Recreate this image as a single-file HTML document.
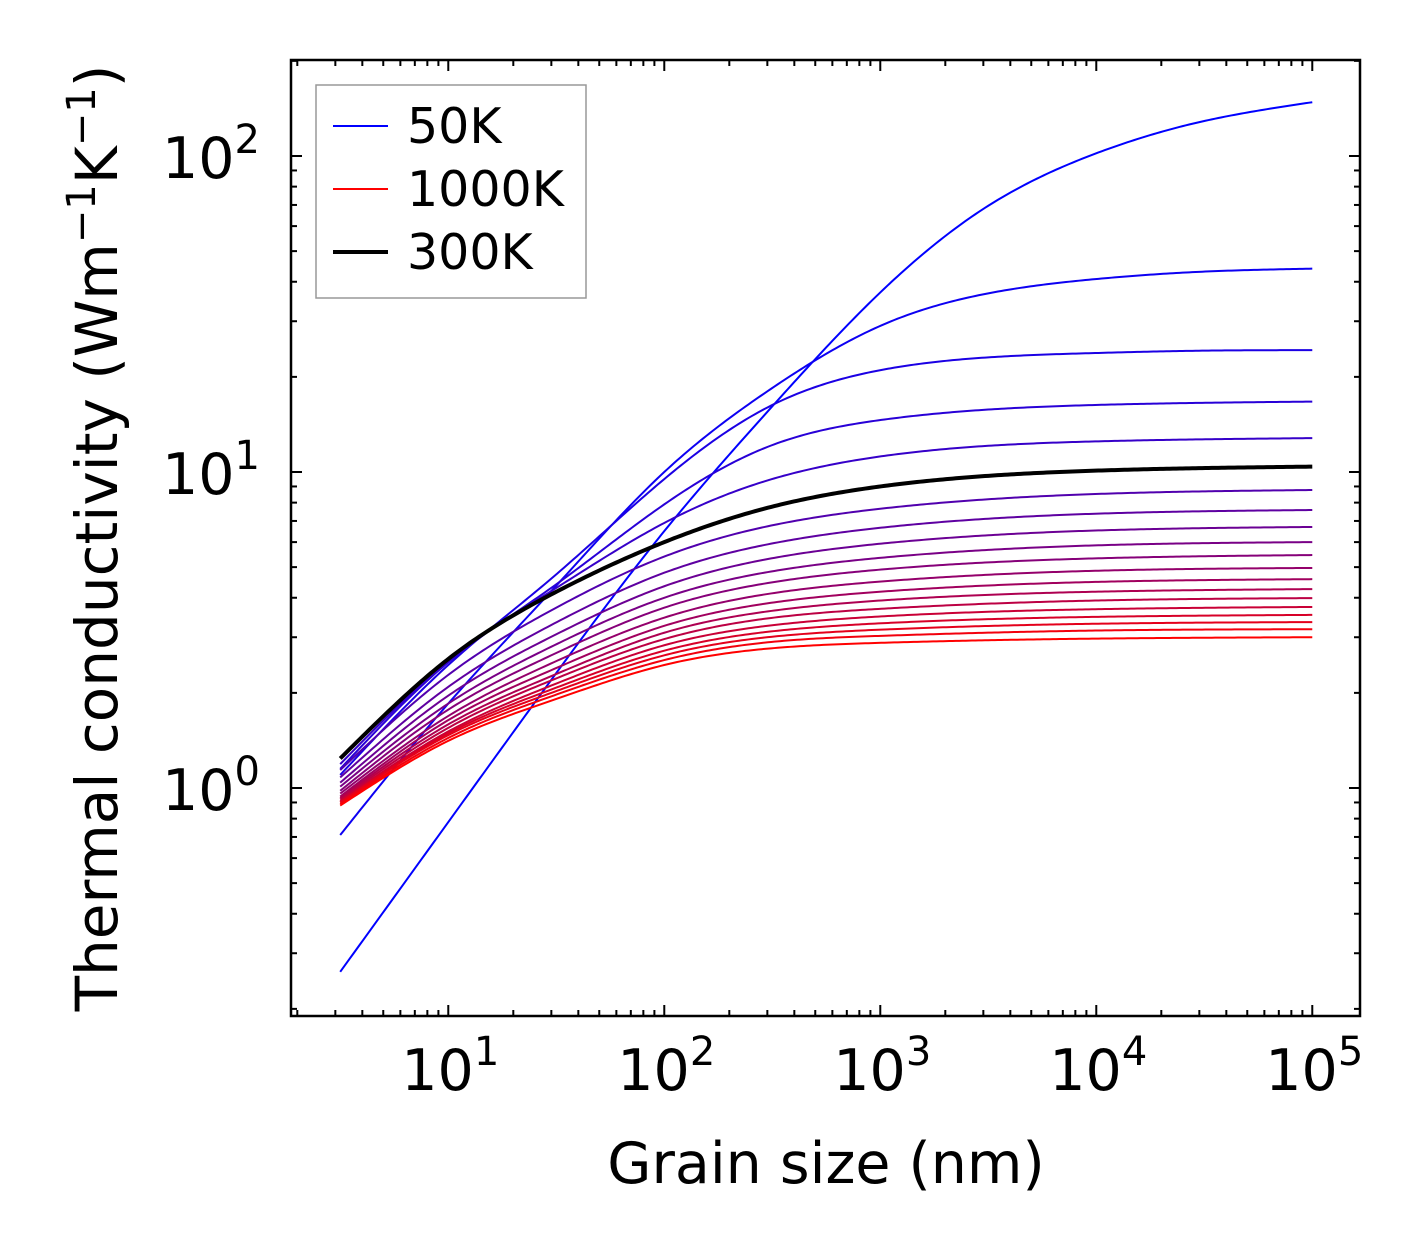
<!DOCTYPE html>
<html><head><meta charset="utf-8"><style>
html,body{margin:0;padding:0;background:#fff;}
svg{display:block;font-family:"DejaVu Sans","Liberation Sans",sans-serif;}
</style></head><body>
<svg id="chart" width="1421" height="1254" viewBox="0 0 1421 1254" xmlns="http://www.w3.org/2000/svg">
<rect width="1421" height="1254" fill="#fff"/>
<g id="curves"></g>
<g id="ticks"></g>
<rect x="291" y="60" width="1069" height="956" fill="none" stroke="#000" stroke-width="2.5"/>
<g id="xlabels" font-size="57" text-anchor="middle"></g>
<g id="ylabels" font-size="57" text-anchor="end"></g>
<text x="826" y="1183" font-size="57" text-anchor="middle">Grain size (nm)</text>
<text transform="translate(117,538) rotate(-90)" font-size="58" text-anchor="middle">Thermal conductivity (Wm<tspan font-size="40" dy="-22">−1</tspan><tspan dy="22">K</tspan><tspan font-size="40" dy="-22">−1</tspan><tspan dy="22">)</tspan></text>
<g>
<rect x="316" y="85" width="270" height="213" fill="#fff" stroke="#999" stroke-width="1.5"/>
<line x1="333" y1="126" x2="388" y2="126" stroke="rgb(0,0,255)" stroke-width="2"/>
<text x="407" y="143" font-size="49">50K</text>
<line x1="333" y1="189" x2="388" y2="189" stroke="rgb(255,0,0)" stroke-width="2"/>
<text x="407" y="206" font-size="49">1000K</text>
<line x1="333" y1="252" x2="388" y2="252" stroke="#000" stroke-width="4"/>
<text x="407" y="269" font-size="49">300K</text>
</g>
</svg>
<script>
const grainSizes = [3.16,10,30,100,300,1000,10000,100000];
const grainSizesFine = [3.16,10,30,100,300,1000,3000,10000,30000,100000];
const temperatures = [50,100,150,200,250,300,350,400,450,500,550,600,650,700,750,800,850,900,950,1000];
const k50 = [0.262,0.78,2.2,6.5,15.5,37,68,102,128,148];
const k100 = [0.71,1.85,4.2,10.0,18.0,29.0,36.5,40.8,43,44];
const k150 = [1.1,2.45,4.6,9.5,16.0,21.0,23.0,23.8,24.2,24.3];
const k200 = [1.15,2.5,4.3,7.9,12.0,14.6,16.3,16.7];
const k250 = [1.19,2.52,4.2,6.9,9.4,11.2,12.5,12.8];
const k300 = [1.24,2.56,4.1,6.0,7.7,9.0,10.1,10.4];
const k350 = [1.14,2.28,3.65,5.4,6.73,7.65,8.52,8.77];
const k400 = [1.08,2.09,3.28,4.8,5.90,6.66,7.38,7.58];
const k450 = [1.04,1.96,3.01,4.35,5.30,5.93,6.53,6.7];
const k500 = [1.01,1.85,2.80,4.0,4.82,5.35,5.86,6.0];
const k550 = [0.98,1.77,2.63,3.72,4.45,4.91,5.33,5.46];
const k600 = [0.96,1.69,2.48,3.46,4.11,4.50,4.87,4.97];
const k650 = [0.94,1.64,2.36,3.26,3.84,4.18,4.49,4.58];
const k700 = [0.93,1.59,2.26,3.10,3.62,3.92,4.18,4.26];
const k750 = [0.92,1.55,2.19,2.96,3.44,3.69,3.92,3.99];
const k800 = [0.91,1.51,2.11,2.83,3.26,3.49,3.68,3.74];
const k850 = [0.90,1.49,2.05,2.72,3.12,3.32,3.48,3.53];
const k900 = [0.90,1.47,2.00,2.63,3.00,3.17,3.31,3.35];
const k950 = [0.89,1.44,1.95,2.54,2.89,3.03,3.15,3.18];
const k1000 = [0.88,1.41,1.89,2.45,2.76,2.88,2.97,3.0];
const xTickExps = [1,2,3,4,5];
const yTickExps = [0,1,2];

const series = [k50,k100,k150,k200,k250,k300,k350,k400,k450,k500,k550,k600,k650,k700,k750,k800,k850,k900,k950,k1000];
const NS='http://www.w3.org/2000/svg';
const X0=291,X1=1360,Y0=60,Y1=1016;
const xmin=Math.log10(1.87), xmax=Math.log10(1.87)+(X1-X0)/216;
const ymax=2+96/316, ymin=2-(Y1-156)/316;
function xs(v){return X0+(Math.log10(v)-xmin)/(xmax-xmin)*(X1-X0);}
function ys(v){return Y1-(Math.log10(v)-ymin)/(ymax-ymin)*(Y1-Y0);}

// natural cubic spline in log-log space
function splineSample(xa,ya,n){
  const m=xa.length, h=[], a=new Array(m).fill(0), b=new Array(m).fill(0), c=new Array(m).fill(0), r=new Array(m).fill(0);
  for(let i=0;i<m-1;i++) h.push(xa[i+1]-xa[i]);
  b[0]=1; b[m-1]=1;
  for(let i=1;i<m-1;i++){ a[i]=h[i-1]; b[i]=2*(h[i-1]+h[i]); c[i]=h[i]; r[i]=6*((ya[i+1]-ya[i])/h[i]-(ya[i]-ya[i-1])/h[i-1]); }
  for(let i=1;i<m;i++){ const w=a[i]/b[i-1]; b[i]-=w*c[i-1]; r[i]-=w*r[i-1]; }
  const M=new Array(m); M[m-1]=r[m-1]/b[m-1];
  for(let i=m-2;i>=0;i--) M[i]=(r[i]-c[i]*M[i+1])/b[i];
  const out=[];
  for(let s=0;s<=n;s++){
    const x=xa[0]+(xa[m-1]-xa[0])*s/n;
    let i=0; while(i<m-2 && x>xa[i+1]) i++;
    const A=(xa[i+1]-x)/h[i], B=(x-xa[i])/h[i];
    const y=A*ya[i]+B*ya[i+1]+((A*A*A-A)*M[i]+(B*B*B-B)*M[i+1])*h[i]*h[i]/6;
    out.push([x,y]);
  }
  return out;
}
const cg=document.getElementById('curves');
const order=[];
for(let i=0;i<series.length;i++){ if(i!==5) order.push(i); }
order.push(5);
order.forEach(i=>{
  const vals=series[i];
  const gs=vals.length===grainSizesFine.length?grainSizesFine:grainSizes;
  const samp=splineSample(gs.map(Math.log10),vals.map(Math.log10),300);
  let d='';
  samp.forEach((p,j)=>{ d+=(j?'L':'M')+xs(Math.pow(10,p[0])).toFixed(2)+','+ys(Math.pow(10,p[1])).toFixed(2); });
  const p=document.createElementNS(NS,'path');
  p.setAttribute('d',d);
  p.setAttribute('fill','none');
  p.setAttribute('stroke-linejoin','round');
  const f=i/(series.length-1);
  const col=temperatures[i]===300?'#000':'rgb('+Math.round(255*f)+',0,'+Math.round(255*(1-f))+')';
  p.setAttribute('stroke',col);
  p.setAttribute('stroke-width',temperatures[i]===300?4:2);
  
  
  cg.appendChild(p);
});

const tg=document.getElementById('ticks');
function line(x1,y1,x2,y2,name){
  const l=document.createElementNS(NS,'line');
  l.setAttribute('x1',x1);l.setAttribute('y1',y1);l.setAttribute('x2',x2);l.setAttribute('y2',y2);
  l.setAttribute('stroke','#000');l.setAttribute('stroke-width',2);
  
  
  tg.appendChild(l);
}
for(let e=0;e<=5;e++){
  for(let m=1;m<=9;m++){
    const v=m*Math.pow(10,e); const x=xs(v);
    if(x<X0||x>X1) continue;
    const L=m===1?11:6;
    line(x,Y1,x,Y1-L,'x-tick'); line(x,Y0,x,Y0+L,'x-tick-top');
  }
}
for(let e=-1;e<=2;e++){
  for(let m=1;m<=9;m++){
    const v=m*Math.pow(10,e); const y=ys(v);
    if(y<Y0||y>Y1) continue;
    const L=m===1?11:6;
    line(X0,y,X0+L,y,'y-tick'); line(X1,y,X1-L,y,'y-tick-right');
  }
}
const xl=document.getElementById('xlabels');
xTickExps.forEach(e=>{
  const t=document.createElementNS(NS,'text');
  t.setAttribute('x',xs(Math.pow(10,e))+2);t.setAttribute('y',1090);
  
  
  t.innerHTML='10<tspan font-size="40" dy="-25">'+e+'</tspan>';
  xl.appendChild(t);
});
const yl=document.getElementById('ylabels');
yTickExps.forEach(e=>{
  const t=document.createElementNS(NS,'text');
  t.setAttribute('x',260);t.setAttribute('y',ys(Math.pow(10,e))+22);
  
  
  t.innerHTML='10<tspan font-size="40" dy="-25">'+e+'</tspan>';
  yl.appendChild(t);
});
</script>
</body></html>
